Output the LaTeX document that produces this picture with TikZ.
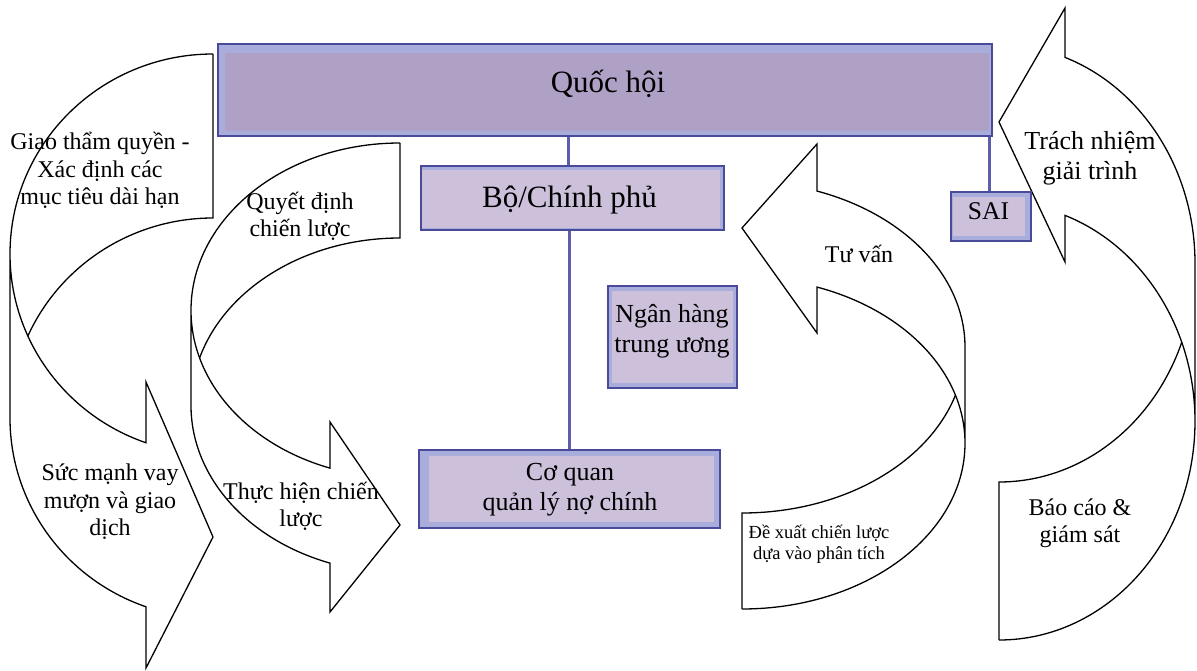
\documentclass[tikz,border=0pt]{standalone}
\usepackage{fontspec}
\setmainfont{Liberation Serif}
\definecolor{bdark}{HTML}{4A4A9A}
\definecolor{band}{HTML}{A9ADDB}
\definecolor{qfill}{HTML}{AFA0C5}
\definecolor{bfill}{HTML}{CCC0DB}
\definecolor{lineblue}{HTML}{5D5DAE}
\tikzset{
  arrline/.style={draw=black, line width=1.3pt, line join=miter},
  conn/.style={draw=lineblue, line width=3pt},
  orgbox/.style n args={5}{draw=bdark, line width=2pt, fill=band, inner sep=0pt,
    path picture={\fill[#5] ([shift={(#1pt,#2pt)}]path picture bounding box.south west)
      rectangle ([shift={(-#3pt,-#4pt)}]path picture bounding box.north east);}},
  tbase/.style={align=center, inner sep=0pt, text=black},
  t18/.style={tbase, font=\fontsize{18.5}{21}\selectfont},
  t24/.style={tbase, font=\fontsize{24}{27.5}\selectfont},
  t26/.style={tbase, font=\fontsize{26}{30}\selectfont},
  t31/.style={tbase, font=\fontsize{31}{35}\selectfont}
}
% curved arrow in local frame: origin at top of the straight edge
% #1 w, #2 ry, #3 th, #4 ah, #5 d4, #6 d6 (tip), #7 d8
\newcommand{\curvarrow}[7]{%
  \pgfmathsetmacro\caA{180+acos(#4/#1)}%
  \pgfmathsetmacro\caD{#2*(1+sin(acos(#4/#1)))}%
  \pgfmathsetmacro\caI{180-asin(#3/(2*#2))}%
  \draw[arrline] (0,0) arc[start angle=90, end angle=\caA, x radius=#1pt, y radius=#2pt]
     -- (-#4,-#5) -- (0,-#6) -- (-#4,-#7) -- (-#4,{-\caD-#3})
     arc[start angle=\caA, end angle=180, x radius=#1pt, y radius=#2pt]
     -- (-#1,-#2);
  \draw[arrline] (0,0) -- (0,-#3)
     arc[start angle=90, end angle=\caI, x radius=#1pt, y radius=#2pt];
}
\begin{document}
\begin{tikzpicture}[x=1pt,y=1pt]
\useasboundingbox (0,0) rectangle (1197,-671);
\fill[white] (0,0) rectangle (1197,-671);

% curved arrows
\begin{scope}[shift={(213,-54)}]
  \curvarrow{203}{200}{164}{67}{328}{483}{614}
\end{scope}
\begin{scope}[shift={(400,-143)}]
  \curvarrow{209}{167.4}{95}{70}{279}{382}{469}
\end{scope}
\begin{scope}[shift={(742,-609)}, rotate=180]
  \curvarrow{223}{165.8}{96}{75}{276}{381}{465}
\end{scope}
\begin{scope}[shift={(999,-640)}, rotate=180]
  \curvarrow{196}{218.7}{158}{66}{378}{518}{632}
\end{scope}

% boxes
\node[orgbox={7}{5}{3}{9}{qfill}, minimum width=774pt, minimum height=92pt] (qh) at (605,-90) {};
\node[orgbox={1}{2}{4}{4}{bfill}, minimum width=303pt, minimum height=64pt] (bo) at (572.5,-198) {};
\node[orgbox={4}{5}{4}{5}{bfill}, minimum width=129pt, minimum height=102pt] (nh) at (672.5,-337) {};
\node[orgbox={10}{6}{6}{6}{bfill}, minimum width=301pt, minimum height=78pt] (cq) at (569.5,-489) {};
\node[orgbox={2}{5}{6}{5}{bfill}, minimum width=80pt, minimum height=49pt] (sai) at (991,-216.5) {};

% connectors
\draw[conn] ([xshift=-4.5pt]bo.north) -- ([xshift=-4.5pt]bo.north |- qh.south);
\draw[conn] (bo.south -| cq.north) -- (cq.north);
\draw[conn] ([xshift=-2pt]sai.north) -- ([xshift=-2pt]sai.north |- qh.south);

% box texts
\node[t31, anchor=base] (tqh) at (608,-93) {Quốc hội};
\node[t31, anchor=base] (tbo) at (569.5,-208) {Bộ/Chính phủ};
\node[t26] (tnh) at (672,-331) {Ngân hàng\\trung ương};
\node[t26] (tcq) at (570,-490) {Cơ quan\\quản lý nợ chính};
\node[t26, anchor=base, font=\fontsize{25.5}{30}\selectfont] (tsai) at (988.5,-220) {SAI};

% arrow texts
\node[t24] (tgiao) at (100,-170.5) {Giao thẩm quyền -\\Xác định các\\mục tiêu dài hạn};
\node[t24] (tquyet) at (300,-216.5) {Quyết định\\chiến lược};
\node[t24] (tsuc) at (110,-502) {Sức mạnh vay\\mượn và giao\\dịch};
\node[t24] (tthuc) at (301,-506.5) {Thực hiện chiến\\lược};
\node[t24, anchor=base] (ttuvan) at (859,-262) {Tư vấn};
\node[t26] (ttrach) at (1090,-158.5) {Trách nhiệm\\giải trình};
\node[t24] (tbao) at (1080,-523) {Báo cáo \&\\giám sát};
\node[t18] (tdexuat) at (819,-544) {Đề xuất chiến lược\\dựa vào phân tích};
\end{tikzpicture}
\end{document}
